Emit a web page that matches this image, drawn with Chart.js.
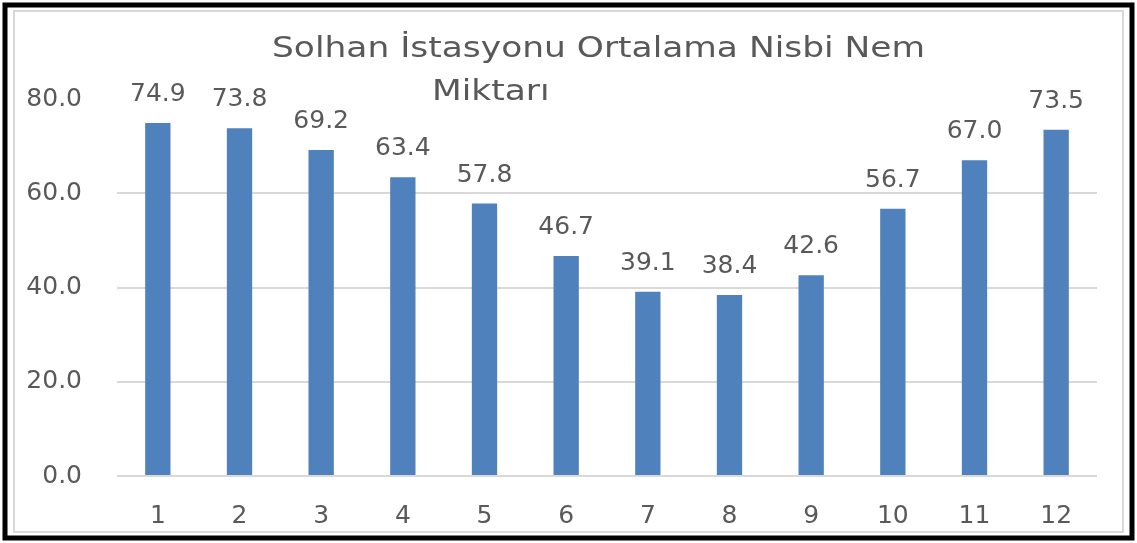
<!DOCTYPE html>
<html>
<head>
<meta charset="utf-8">
<script src="https://cdn.jsdelivr.net/npm/chart.js@4/dist/chart.umd.min.js"></script>
<style>
  html, body { margin: 0; padding: 0; background: #fff; }
  canvas { display: block; }
</style>
</head>
<body>
<canvas id="chart1" width="1137" height="543"></canvas>
<script>
var months = ["1", "2", "3", "4", "5", "6", "7", "8", "9", "10", "11", "12"];
var humidity = [74.9, 73.8, 69.2, 63.4, 57.8, 46.7, 39.1, 38.4, 42.6, 56.7, 67.0, 73.5];
var yTicks = [0, 20, 40, 60, 80];
var titleLines = ["Solhan İstasyonu Ortalama Nisbi Nem", "Miktarı"];

var textGrey = '#595959';
var font = 'DejaVu Sans';

// frame + title, drawn by hand
var framePlugin = {
  id: 'frame',
  beforeDraw: function (chart) {
    var c = chart.ctx;
    c.save();
    c.fillStyle = '#fff';
    c.fillRect(0, 0, chart.width, chart.height);
    c.strokeStyle = '#d9d9d9';
    c.lineWidth = 2;
    c.strokeRect(14, 11, 1109, 521);
    c.strokeStyle = '#000';
    c.lineWidth = 5;
    c.strokeRect(5, 5, 1127, 533);
    c.restore();
  },
  afterDraw: function (chart) {
    var c = chart.ctx;
    c.save();
    c.font = '28px "' + font + '"';
    c.fillStyle = textGrey;
    c.textBaseline = 'alphabetic';
    var sx = 653 / c.measureText(titleLines[0]).width;
    c.translate(272, 57);
    c.scale(sx, 1);
    c.fillText(titleLines[0], 0, 0);
    c.restore();
    c.save();
    c.font = '28px "' + font + '"';
    c.fillStyle = textGrey;
    c.translate(432, 100);
    c.scale(sx, 1);
    c.fillText(titleLines[1], 0, 0);
    c.restore();
  }
};

var valueLabels = {
  id: 'valueLabels',
  afterDatasetsDraw: function (chart) {
    var c = chart.ctx;
    var meta = chart.getDatasetMeta(0);
    c.save();
    c.font = '25px "' + font + '"';
    c.fillStyle = textGrey;
    c.textAlign = 'center';
    c.textBaseline = 'alphabetic';
    meta.data.forEach(function (bar, i) {
      c.fillText(humidity[i].toFixed(1), bar.x, bar.y - 22);
    });
    c.restore();
  }
};

var ctx = document.getElementById('chart1');
var myChart = new Chart(ctx, {
  type: 'bar',
  data: {
    labels: months,
    datasets: [{
      data: humidity,
      backgroundColor: '#4F81BD',
      borderWidth: 0,
      barPercentage: 0.31,
      categoryPercentage: 1.0
    }]
  },
  options: {
    responsive: false,
    devicePixelRatio: 1,
    animation: false,
    layout: { padding: { top: 99, right: 40, bottom: 0, left: 0 } },
    plugins: {
      legend: { display: false },
      tooltip: { enabled: false },
      title: { display: false }
    },
    scales: {
      x: {
        grid: { display: false },
        border: { display: false },
        ticks: {
          color: textGrey,
          font: { family: font, size: 25 },
          padding: 17,
          maxRotation: 0
        },
        afterFit: function (scale) { scale.height = 67; }
      },
      y: {
        min: 0,
        max: 80,
        afterBuildTicks: function (scale) {
          scale.ticks = yTicks.map(function (v) { return { value: v }; });
        },
        border: { display: false },
        grid: {
          drawTicks: false,
          lineWidth: 2,
          color: function (c) {
            return c.tick && c.tick.value === 80 ? 'rgba(0,0,0,0)' : '#d9d9d9';
          }
        },
        ticks: {
          color: textGrey,
          font: { family: font, size: 25 },
          padding: 35,
          callback: function (v) { return Number(v).toFixed(1); }
        },
        afterFit: function (scale) { scale.width = 117; }
      }
    }
  },
  plugins: [framePlugin, valueLabels]
});
</script>
</body>
</html>
